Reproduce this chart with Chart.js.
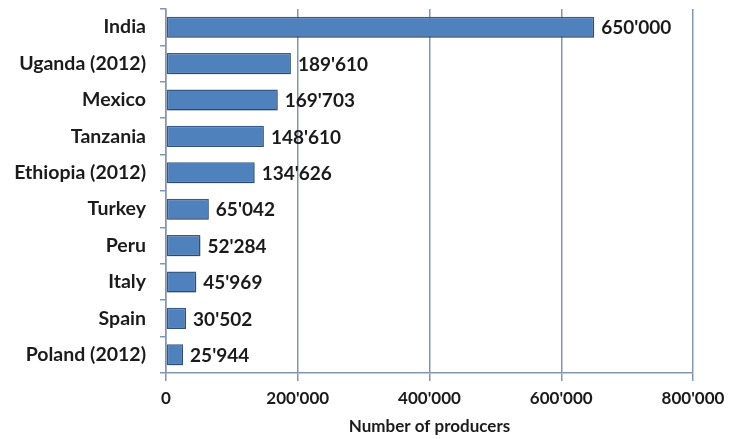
<!DOCTYPE html>
<html>
<head>
<meta charset="utf-8">
<script src="https://cdn.jsdelivr.net/npm/chart.js@4.4.1/dist/chart.umd.min.js"></script>
<style>
  html, body { margin: 0; padding: 0; background: #ffffff; }
  #wrap { width: 729px; height: 439px; }
</style>
</head>
<body>
<div id="wrap"><canvas id="c" width="729" height="439"></canvas></div>
<script>
const countries = ["India", "Uganda (2012)", "Mexico", "Tanzania", "Ethiopia (2012)", "Turkey", "Peru", "Italy", "Spain", "Poland (2012)"];
const producers = [650000, 189610, 169703, 148610, 134626, 65042, 52284, 45969, 30502, 25944];
const xTicks = [0, 200000, 400000, 600000, 800000];
const xTitle = "Number of producers";

const FONT = "Lato, 'Open Sans', sans-serif";
const TEXT = "#1b1b1b";
const AXIS = "#8395b1";

function fmt(v) {
  return String(v).replace(/\B(?=(\d{3})+(?!\d))/g, "'");
}

// Value labels at the end of each bar
const valueLabels = {
  id: "valueLabels",
  afterDatasetsDraw(chart) {
    const ctx = chart.ctx;
    const meta = chart.getDatasetMeta(0);
    ctx.save();
    ctx.font = "bold 19px " + FONT;
    ctx.fillStyle = TEXT;
    ctx.textAlign = "left";
    ctx.textBaseline = "middle";
    meta.data.forEach((bar, i) => {
      ctx.fillText(fmt(producers[i]), bar.x + 7, bar.y + 1);
    });
    ctx.restore();
  }
};

// Soft drop shadow beneath bars
const barShadow = {
  id: "barShadow",
  beforeDatasetsDraw(chart) {
    const ctx = chart.ctx;
    ctx.save();
    ctx.shadowColor = "rgba(0,0,0,0.28)";
    ctx.shadowBlur = 3;
    ctx.shadowOffsetX = 1;
    ctx.shadowOffsetY = 2;
  },
  afterDatasetsDraw(chart) {
    chart.ctx.restore();
  }
};

new Chart(document.getElementById("c"), {
  type: "bar",
  data: {
    labels: countries,
    datasets: [{
      data: producers,
      backgroundColor: "#4f81bd",
      borderColor: "#385d8a",
      borderWidth: 1.5,
      borderSkipped: false,
      barPercentage: 0.58,
      categoryPercentage: 1.0
    }]
  },
  options: {
    indexAxis: "y",
    responsive: false,
    animation: false,
    devicePixelRatio: 1,
    layout: { padding: { top: 9, right: 36, left: 0, bottom: 0 } },
    plugins: {
      legend: { display: false },
      tooltip: { enabled: false }
    },
    scales: {
      x: {
        min: 0,
        max: 800000,
        afterBuildTicks(axis) {
          axis.ticks = xTicks.map(v => ({ value: v }));
        },
        afterFit(axis) {
          axis.height = 66;
          axis.paddingLeft = 0;
          axis.paddingRight = 0;
        },
        grid: {
          color: AXIS,
          lineWidth: 1.5,
          drawTicks: true,
          tickLength: 8,
          tickColor: AXIS
        },
        border: { display: true, color: AXIS, width: 1.5 },
        ticks: {
          color: TEXT,
          font: { family: FONT, size: 17, weight: "bold" },
          padding: 7,
          maxRotation: 0,
          callback: v => fmt(v)
        },
        title: {
          display: true,
          text: xTitle,
          color: TEXT,
          font: { family: FONT, size: 17, weight: "bold" },
          padding: { top: 0, bottom: 2 }
        }
      },
      y: {
        afterFit(axis) {
          axis.width = 166;
          axis.paddingTop = 0;
          axis.paddingBottom = 0;
        },
        grid: {
          offset: true,
          drawOnChartArea: false,
          drawTicks: true,
          tickLength: 6,
          color: AXIS,
          lineWidth: 1.5
        },
        border: { display: true, color: AXIS, width: 1.5 },
        ticks: {
          color: TEXT,
          font: { family: FONT, size: 19.5, weight: "bold" },
          padding: 14
        }
      }
    }
  },
  plugins: [barShadow, valueLabels]
});
</script>
</body>
</html>
